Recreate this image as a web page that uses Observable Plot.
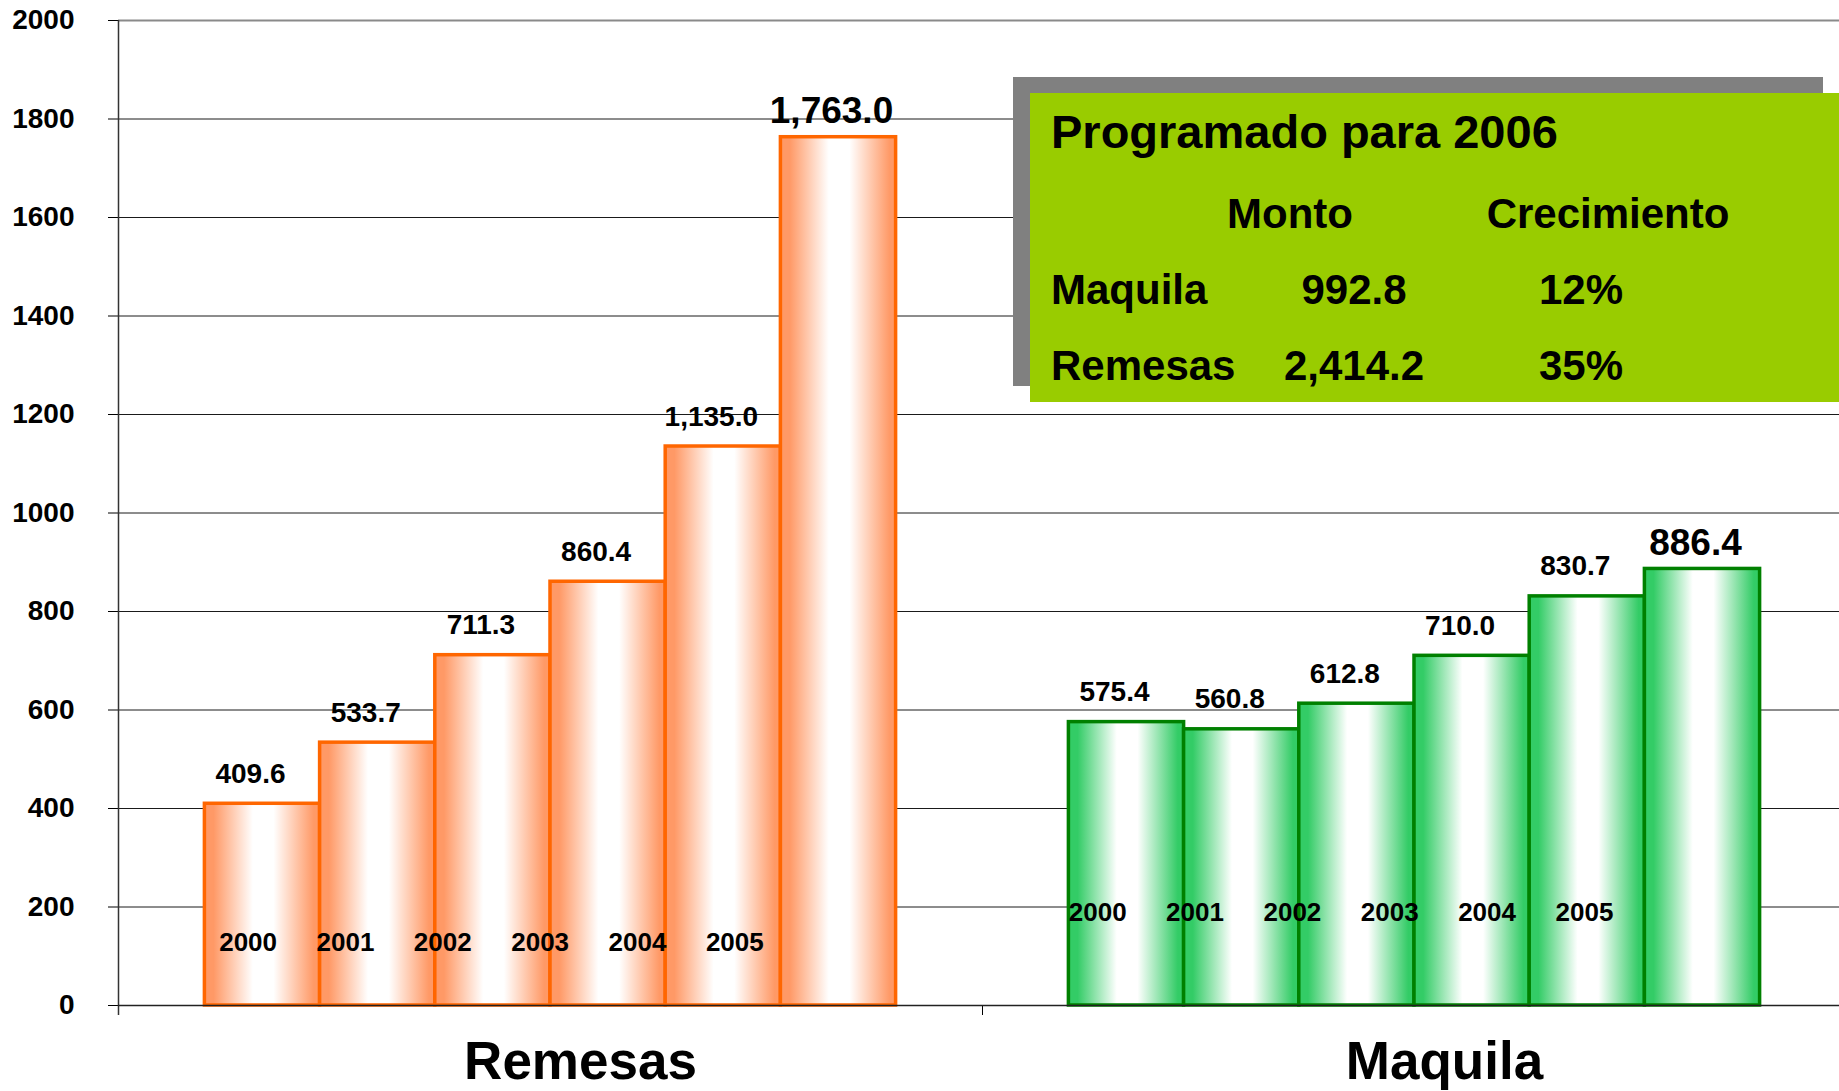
<!DOCTYPE html>
<html><head><meta charset="utf-8">
<script src="https://cdn.jsdelivr.net/npm/d3@7"></script>
<script src="https://cdn.jsdelivr.net/npm/@observablehq/plot@0.6"></script>
<style>
body{margin:0;background:#fff;}
#wrap{position:relative;width:1839px;height:1091px;overflow:hidden;font-family:"Liberation Sans",Arial,sans-serif;}
#wrap svg{position:absolute;left:0;top:0;overflow:visible;}
</style></head><body><div id="wrap"></div>
<script>
// ---- data ----
const categories = ["Remesas", "Maquila"];
const years = ["2000", "2001", "2002", "2003", "2004", "2005"];
const remesas = [409.6, 533.7, 711.3, 860.4, 1135.0, 1763.0];
const maquila = [575.4, 560.8, 612.8, 710.0, 830.7, 886.4];
const yTicks = [0, 200, 400, 600, 800, 1000, 1200, 1400, 1600, 1800, 2000];
const tableTitle = "Programado para 2006";
const tableHeaders = ["Monto", "Crecimiento"];
const tableRows = ["Maquila", "Remesas"];
const tableMonto = ["992.8", "2,414.2"];
const tableGrowth = ["12%", "35%"];

// ---- layout ----
const W = 1839, H = 1091;
const FONT = '"Liberation Sans", Arial, Helvetica, sans-serif';
const groupSlots = years.length / 0.8;          // bar slots per category band
const pad = (groupSlots - years.length) / 2;     // empty slots on each side of a group
const seriesValues = [remesas, maquila];
const bars = categories.flatMap((cat, g) => seriesValues[g].map((v, i) => ({
  cat, g, i, year: years[i], value: v, last: i === years.length - 1
})));
const x0 = d => d.g * groupSlots + d.i;
const fmt = d3.format(",.1f");

const chart = Plot.plot({
  width: W, height: H,
  marginLeft: 118, marginRight: -7, marginTop: 20, marginBottom: 86,
  style: {fontFamily: FONT, fontWeight: "bold", fontSize: "28px", color: "#000", background: "transparent"},
  x: {domain: [-pad, 2 * groupSlots - pad], ticks: [groupSlots - pad], tickSize: 10, tickFormat: () => "", label: null},
  y: {domain: [0, 2000], ticks: yTicks, tickSize: 10, tickPadding: 34, tickFormat: d3.format("d"), label: null},
  marks: [
    Plot.ruleY(yTicks.filter(t => t > 0 && t < 2000), {stroke: "#1a1a1a", strokeWidth: 1}),
    Plot.ruleY([2000], {stroke: "#8a8a8a", strokeWidth: 2}),
    Plot.ruleX([-pad], {stroke: "#333", strokeWidth: 1.5, insetBottom: -10}),
    Plot.rect(bars.filter(d => d.g === 0), {
      x1: x0, x2: d => x0(d) + 1, y1: 0, y2: "value",
      fill: "url(#gradOrange)", stroke: "#FF6600", strokeWidth: 3.5
    }),
    Plot.rect(bars.filter(d => d.g === 1), {
      x1: x0, x2: d => x0(d) + 1, y1: 0, y2: "value",
      fill: "url(#gradGreen)", stroke: "#008000", strokeWidth: 3.5
    }),
    Plot.ruleY([0], {stroke: "#222", strokeWidth: 1.5}),
    Plot.text(bars.filter(d => !d.last), {
      x: d => x0(d) + 0.5, y: "value", text: d => fmt(d.value),
      dx: -12, dy: -21, lineAnchor: "bottom", fontSize: 28, fontWeight: "bold", fill: "#000"
    }),
    Plot.text(bars.filter(d => d.last), {
      x: d => x0(d) + 0.5, y: "value", text: d => fmt(d.value),
      dx: -7, dy: -14, lineAnchor: "bottom", fontSize: 37, fontWeight: "bold", fill: "#000"
    }),
    Plot.text(bars.filter(d => d.g === 0), {
      x: d => d.g * groupSlots + 0.375 + 0.845 * d.i, y: 0, text: "year",
      dy: -55, lineAnchor: "bottom", fontSize: 26, fontWeight: "bold", fill: "#000"
    }),
    Plot.text(bars.filter(d => d.g === 1), {
      x: d => d.g * groupSlots + 0.25 + 0.845 * d.i, y: 0, text: "year",
      dy: -85, lineAnchor: "bottom", fontSize: 26, fontWeight: "bold", fill: "#000"
    }),
    Plot.text(categories, {
      x: (d, i) => i * groupSlots + years.length / 2, y: 0, text: d => d,
      dx: 30, dy: 73, lineAnchor: "bottom", fontSize: 53, fontWeight: "bold", fill: "#000"
    })
  ]
});

// gradient definitions for the bar fills
const defs = d3.select(chart).insert("defs", ":first-child");
function grad(id, col) {
  const g = defs.append("linearGradient").attr("id", id)
    .attr("x1", "0").attr("x2", "1").attr("y1", "0").attr("y2", "0");
  [[0, col], [0.08, col], [0.42, "#ffffff"], [0.6, "#ffffff"], [0.95, col], [1, col]].forEach(([o, c]) =>
    g.append("stop").attr("offset", o).attr("stop-color", c));
}
grad("gradOrange", "#FF9966");
grad("gradGreen", "#33CC66");

const wrap = document.getElementById("wrap");
wrap.appendChild(chart);

// ---- "Programado para 2006" box ----
const ov = d3.select(wrap).append("svg").attr("width", W).attr("height", H)
  .style("font-family", FONT).style("font-weight", "bold").style("pointer-events", "none");
ov.append("rect").attr("x", 1013).attr("y", 77).attr("width", 810).attr("height", 309).attr("fill", "#808080");
ov.append("rect").attr("x", 1030).attr("y", 93).attr("width", 830).attr("height", 309).attr("fill", "#99CC00");
ov.append("text").attr("x", 1051).attr("y", 148).attr("font-size", 47).text(tableTitle);
const colCenters = [1290, 1608];
tableHeaders.forEach((h, i) => ov.append("text").attr("x", colCenters[i]).attr("y", 228)
  .attr("font-size", 42).attr("text-anchor", "middle").text(h));
const rowBase = [304, 380];
tableRows.forEach((r, i) => {
  ov.append("text").attr("x", 1051).attr("y", rowBase[i]).attr("font-size", 42).text(r);
  ov.append("text").attr("x", 1354).attr("y", rowBase[i]).attr("font-size", 42).attr("text-anchor", "middle").text(tableMonto[i]);
  ov.append("text").attr("x", 1581).attr("y", rowBase[i]).attr("font-size", 42).attr("text-anchor", "middle").text(tableGrowth[i]);
});
</script></body></html>
